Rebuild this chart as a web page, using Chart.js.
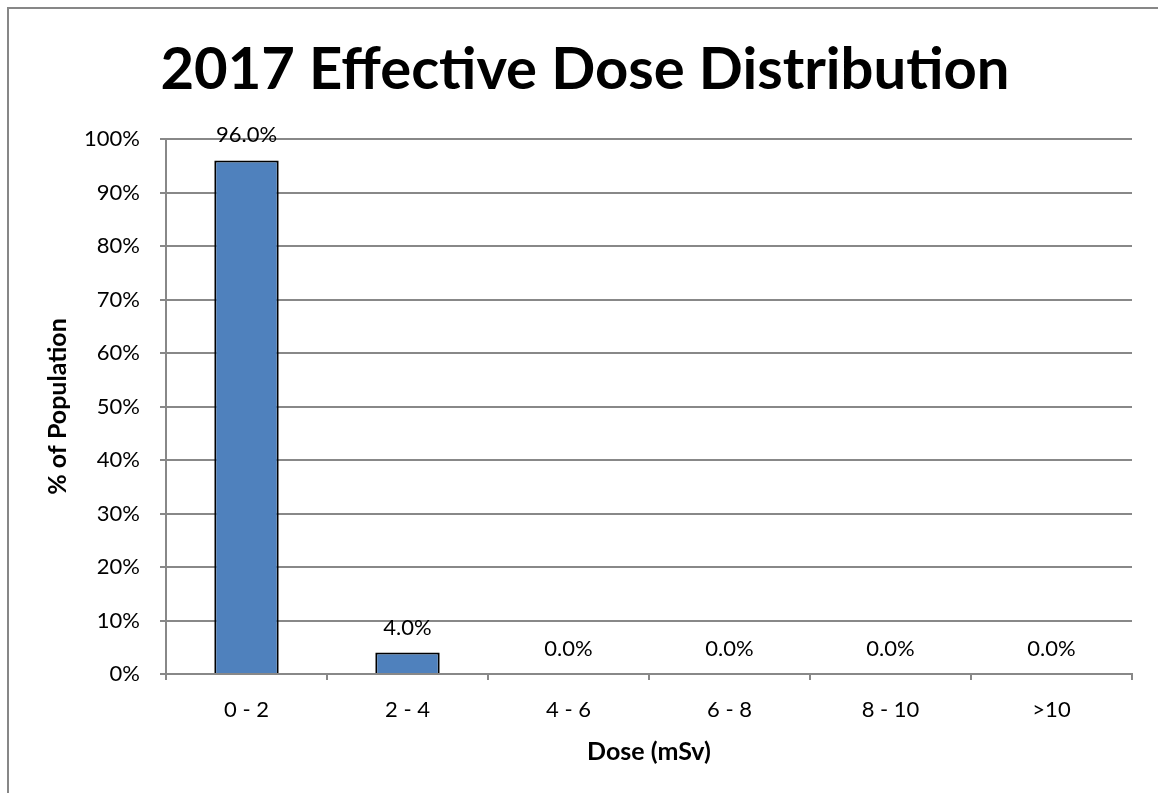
<!DOCTYPE html>
<html>
<head>
<meta charset="utf-8">
<title>2017 Effective Dose Distribution</title>
<script src="https://cdn.jsdelivr.net/npm/chart.js@4/dist/chart.umd.min.js"></script>
<style>
  html, body { margin: 0; padding: 0; background: #fff; }
  .wrap { position: relative; width: 1158px; height: 793px; overflow: hidden; }
  .frame {
    position: absolute; left: 7px; top: 7px; right: -10px; bottom: -10px;
    border-left: 2px solid #878787; border-top: 2px solid #878787;
    pointer-events: none;
  }
  canvas { position: absolute; left: 0; top: 0; }
</style>
</head>
<body>
<div class="wrap">
  <canvas id="doseChart" width="1158" height="793"></canvas>
  <div class="frame"></div>
</div>
<script>
const doseRanges = ["0 - 2", "2 - 4", "4 - 6", "6 - 8", "8 - 10", ">10"];
const populationPct = [96.0, 4.0, 0.0, 0.0, 0.0, 0.0];
const yTicks = [0, 10, 20, 30, 40, 50, 60, 70, 80, 90, 100];

const GRID = "#888888";
const FONT = "Lato, 'Open Sans', sans-serif";

// writes the percentage above each bar
const valueLabels = {
  id: "valueLabels",
  afterDatasetsDraw(chart) {
    const ctx = chart.ctx;
    const meta = chart.getDatasetMeta(0);
    ctx.save();
    ctx.fillStyle = "#000";
    ctx.font = "22px " + FONT;
    ctx.textAlign = "center";
    ctx.textBaseline = "middle";
    meta.data.forEach((bar, i) => {
      const v = chart.data.datasets[0].data[i];
      ctx.fillText(v.toFixed(1) + "%", bar.x, bar.y - 25);
    });
    ctx.restore();
  },
};

const ctx = document.getElementById("doseChart").getContext("2d");
new Chart(ctx, {
  type: "bar",
  data: {
    labels: doseRanges,
    datasets: [
      {
        label: "% of Population",
        data: populationPct,
        backgroundColor: "#4f81bd",
        borderColor: "#000000",
        borderWidth: 2,
        barPercentage: 0.4,
        categoryPercentage: 1.0,
      },
    ],
  },
  options: {
    responsive: false,
    animation: false,
    devicePixelRatio: 1,
    layout: {
      padding: { top: 35, left: 38, right: 26, bottom: 0 },
    },
    plugins: {
      legend: { display: false },
      tooltip: { enabled: false },
      title: {
        display: true,
        text: "2017 Effective Dose Distribution",
        color: "#000",
        font: { family: FONT, size: 58, weight: "bold", lineHeight: 1.2 },
        padding: { top: 0, bottom: 34.4 },
      },
    },
    scales: {
      x: {
        grid: {
          drawOnChartArea: false,
          drawTicks: true,
          tickLength: 6,
          color: GRID,
          lineWidth: 2,
          offset: true,
        },
        border: { color: GRID, width: 2 },
        ticks: {
          color: "#000",
          font: { family: FONT, size: 22 },
          padding: 17,
          maxRotation: 0,
        },
        title: {
          display: true,
          text: "Dose (mSv)",
          color: "#000",
          font: { family: FONT, size: 25, weight: "bold" },
          padding: { top: 0, bottom: 26 },
        },
        afterFit(scale) {
          scale.height = 119;
        },
      },
      y: {
        min: 0,
        max: 100,
        grid: {
          color: GRID,
          lineWidth: 2,
          tickLength: 6,
        },
        border: { color: GRID, width: 2 },
        ticks: {
          stepSize: 10,
          color: "#000",
          font: { family: FONT, size: 22 },
          padding: 20,
          callback: (value) => (yTicks.includes(value) ? value + "%" : ""),
        },
        title: {
          display: true,
          text: "% of Population",
          color: "#000",
          font: { family: FONT, size: 25, weight: "bold" },
          padding: { top: 5, bottom: 0 },
        },
        afterFit(scale) {
          scale.width = 128;
        },
      },
    },
  },
  plugins: [valueLabels],
});
</script>
</body>
</html>
